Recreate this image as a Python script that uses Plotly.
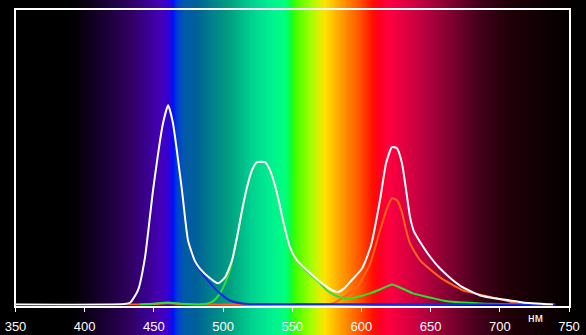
import numpy as np
import plotly.graph_objects as go

# ---------------- data ----------------
white_nm = [350, 429, 433, 438.5, 443.6, 449.4, 456.6, 460.3, 463.8, 470.3, 474.7, 479.7, 483.3,
            490.6, 496.3, 501.4, 506.5, 510.1, 513.7, 517.3, 520.9, 524.5, 530.3, 533.9, 539.0,
            543.3, 548.4, 553.4, 560.7, 570.1, 579.5, 583.0, 587.5, 591.8, 600.4, 606.9, 613.4,
            617.8, 622.1, 625.7, 629.3, 632.0, 635.1, 638.0, 642.4, 649.6, 656.8, 665.0, 673.4,
            685.7, 692.9, 707.4, 716.7, 738.4]
white_val = [0.003, 0.005, 0.010, 0.051, 0.163, 0.390, 0.617, 0.678, 0.617, 0.390, 0.220, 0.150, 0.125,
             0.092, 0.075, 0.095, 0.153, 0.231, 0.322, 0.400, 0.458, 0.485, 0.485, 0.458, 0.380,
             0.288, 0.197, 0.153, 0.119, 0.080, 0.050, 0.046, 0.058, 0.080, 0.125, 0.203, 0.356,
             0.481, 0.536, 0.532, 0.481, 0.400, 0.300, 0.250, 0.215, 0.165, 0.125, 0.090, 0.061,
             0.034, 0.027, 0.017, 0.010, 0.003]

blue_nm = [350, 429, 433, 438.5, 443.6, 449.4, 456.6, 460.3, 463.8, 470.3, 474.7, 479.7, 483.3,
           490.6, 497.8, 505.0, 514.0, 525.0, 600.0, 740.0]
blue_val = [0.003, 0.005, 0.010, 0.051, 0.163, 0.390, 0.617, 0.678, 0.617, 0.390, 0.220, 0.146, 0.119,
            0.076, 0.041, 0.017, 0.007, 0.005, 0.004, 0.003]

green_nm = [440, 450, 460, 470, 485, 489, 493, 497.8, 501.4, 505.0, 508.3, 510.1, 513.7, 517.3, 520.9,
            524.5, 530.3, 533.9, 539.0, 543.3, 548.4, 553.4, 560.7, 570.1, 575.1, 580.0, 584.5,
            591.7, 601.1, 606.2, 613.4, 622.1, 627.9, 637.3, 649.6, 661.9, 685.7, 714.6, 740]
green_val = [0.003, 0.006, 0.010, 0.006, 0.004, 0.007, 0.015, 0.041, 0.075, 0.119, 0.190, 0.228, 0.318,
             0.397, 0.455, 0.482, 0.482, 0.455, 0.377, 0.285, 0.194, 0.150, 0.115, 0.075, 0.051,
             0.037, 0.028, 0.024, 0.034, 0.041, 0.054, 0.071, 0.061, 0.041, 0.027, 0.014, 0.007,
             0.004, 0.003]

red_nm = [430, 450, 460, 470, 490, 540, 575, 580.0, 586.8, 596.9, 606.3, 613.4, 618.5, 622.1, 625.7,
          629.0, 632.0, 635.1, 642.4, 656.8, 673.4, 698.0, 712.4, 736.3]
red_val = [0.003, 0.005, 0.008, 0.005, 0.003, 0.003, 0.004, 0.008, 0.027, 0.061, 0.142, 0.254, 0.329,
           0.363, 0.356, 0.320, 0.260, 0.210, 0.153, 0.095, 0.051, 0.024, 0.007, 0.003]

x_ticks = [350, 400, 450, 500, 550, 600, 650, 700, 750]
unit_label = "нм"

# background spectrum colour stops (wavelength, colour)
spec_nm = [338, 390, 400, 415, 433, 445, 455, 461, 464, 467, 472, 480, 495, 505, 520, 535, 545,
           549, 552, 563, 570, 574, 585, 599, 608, 613, 620, 643, 664, 686, 707, 729, 745, 763]
spec_col = ["#000000", "#000000", "#0a0014", "#1a0035", "#300060", "#3a0090", "#4400b8", "#3000d8",
            "#0010ff", "#0040d0", "#005aa8", "#006098", "#008888", "#00a080", "#00d090", "#00f090",
            "#00ff80", "#10ff30", "#40ff00", "#a0ff00", "#e0f000", "#ffe000", "#ffa000", "#ff5000",
            "#ff1000", "#ff0020", "#ff0040", "#c00040", "#800030", "#400018", "#200008", "#100004",
            "#060000", "#000000"]

# ---------------- figure ----------------
W, H = 586, 335
px_left, px_right, px_top, px_bottom = 15.5, 569.0, 10.0, 305.5
x0, x1 = 350, 750
scale = (px_right - px_left) / (x1 - x0)
bg_lo = x0 - px_left / scale
bg_hi = x1 + (W - px_right) / scale

lo, hi = spec_nm[0], spec_nm[-1]
colorscale = [[(w - lo) / (hi - lo), c] for w, c in zip(spec_nm, spec_col)]
grid = np.arange(lo, hi + 0.25, 0.5)

fig = go.Figure()
fig.add_trace(go.Heatmap(x=grid, y=[0, 1], z=[grid, grid], colorscale=colorscale,
                         zmin=lo, zmax=hi, showscale=False, hoverinfo="skip",
                         xaxis="x", yaxis="y"))

for nm, val, col in [(red_nm, red_val, "#ff6418"), (green_nm, green_val, "#30e030"),
                     (blue_nm, blue_val, "#1428e6"), (white_nm, white_val, "#ffffff")]:
    fig.add_trace(go.Scatter(x=nm, y=val, mode="lines",
                             line=dict(color=col, width=2, shape="spline", smoothing=0.5),
                             xaxis="x2", yaxis="y2", hoverinfo="skip", showlegend=False))

fig.update_layout(
    template="none",
    width=W, height=H, margin=dict(l=0, r=0, t=0, b=0, pad=0, autoexpand=False),
    paper_bgcolor="#000000", plot_bgcolor="rgba(0,0,0,0)", showlegend=False,
    xaxis=dict(domain=[0, 1], range=[bg_lo, bg_hi], visible=False, fixedrange=True,
               automargin=False),
    yaxis=dict(domain=[0, 1], range=[0, 1], visible=False, fixedrange=True, automargin=False),
    xaxis2=dict(domain=[px_left / W, px_right / W], range=[x0, x1], anchor="y2",
                tickvals=x_ticks, ticktext=[str(t) for t in x_ticks], automargin=False,
                showline=True, linecolor="#ffffff", linewidth=2, mirror=True,
                ticks="outside", ticklen=4, tickcolor="#ffffff", tickwidth=1,
                showgrid=False, zeroline=False, layer="below traces",
                tickfont=dict(family="Liberation Sans, Arial", size=13, color="#ffffff"),
                ticklabelstandoff=4),
    yaxis2=dict(domain=[(H - px_bottom) / H, (H - px_top) / H], range=[0, 1], anchor="x2",
                showline=True, linecolor="#ffffff", linewidth=2, mirror=True, automargin=False,
                showticklabels=False, ticks="", showgrid=False, zeroline=False,
                layer="below traces"),
    annotations=[dict(text=unit_label, xref="paper", yref="paper", x=535 / W, y=(H - 318) / H,
                      xanchor="center", yanchor="middle", showarrow=False,
                      font=dict(family="Liberation Sans, Arial", size=12, color="#ffffff"))],
)

fig.write_html("out.html")
